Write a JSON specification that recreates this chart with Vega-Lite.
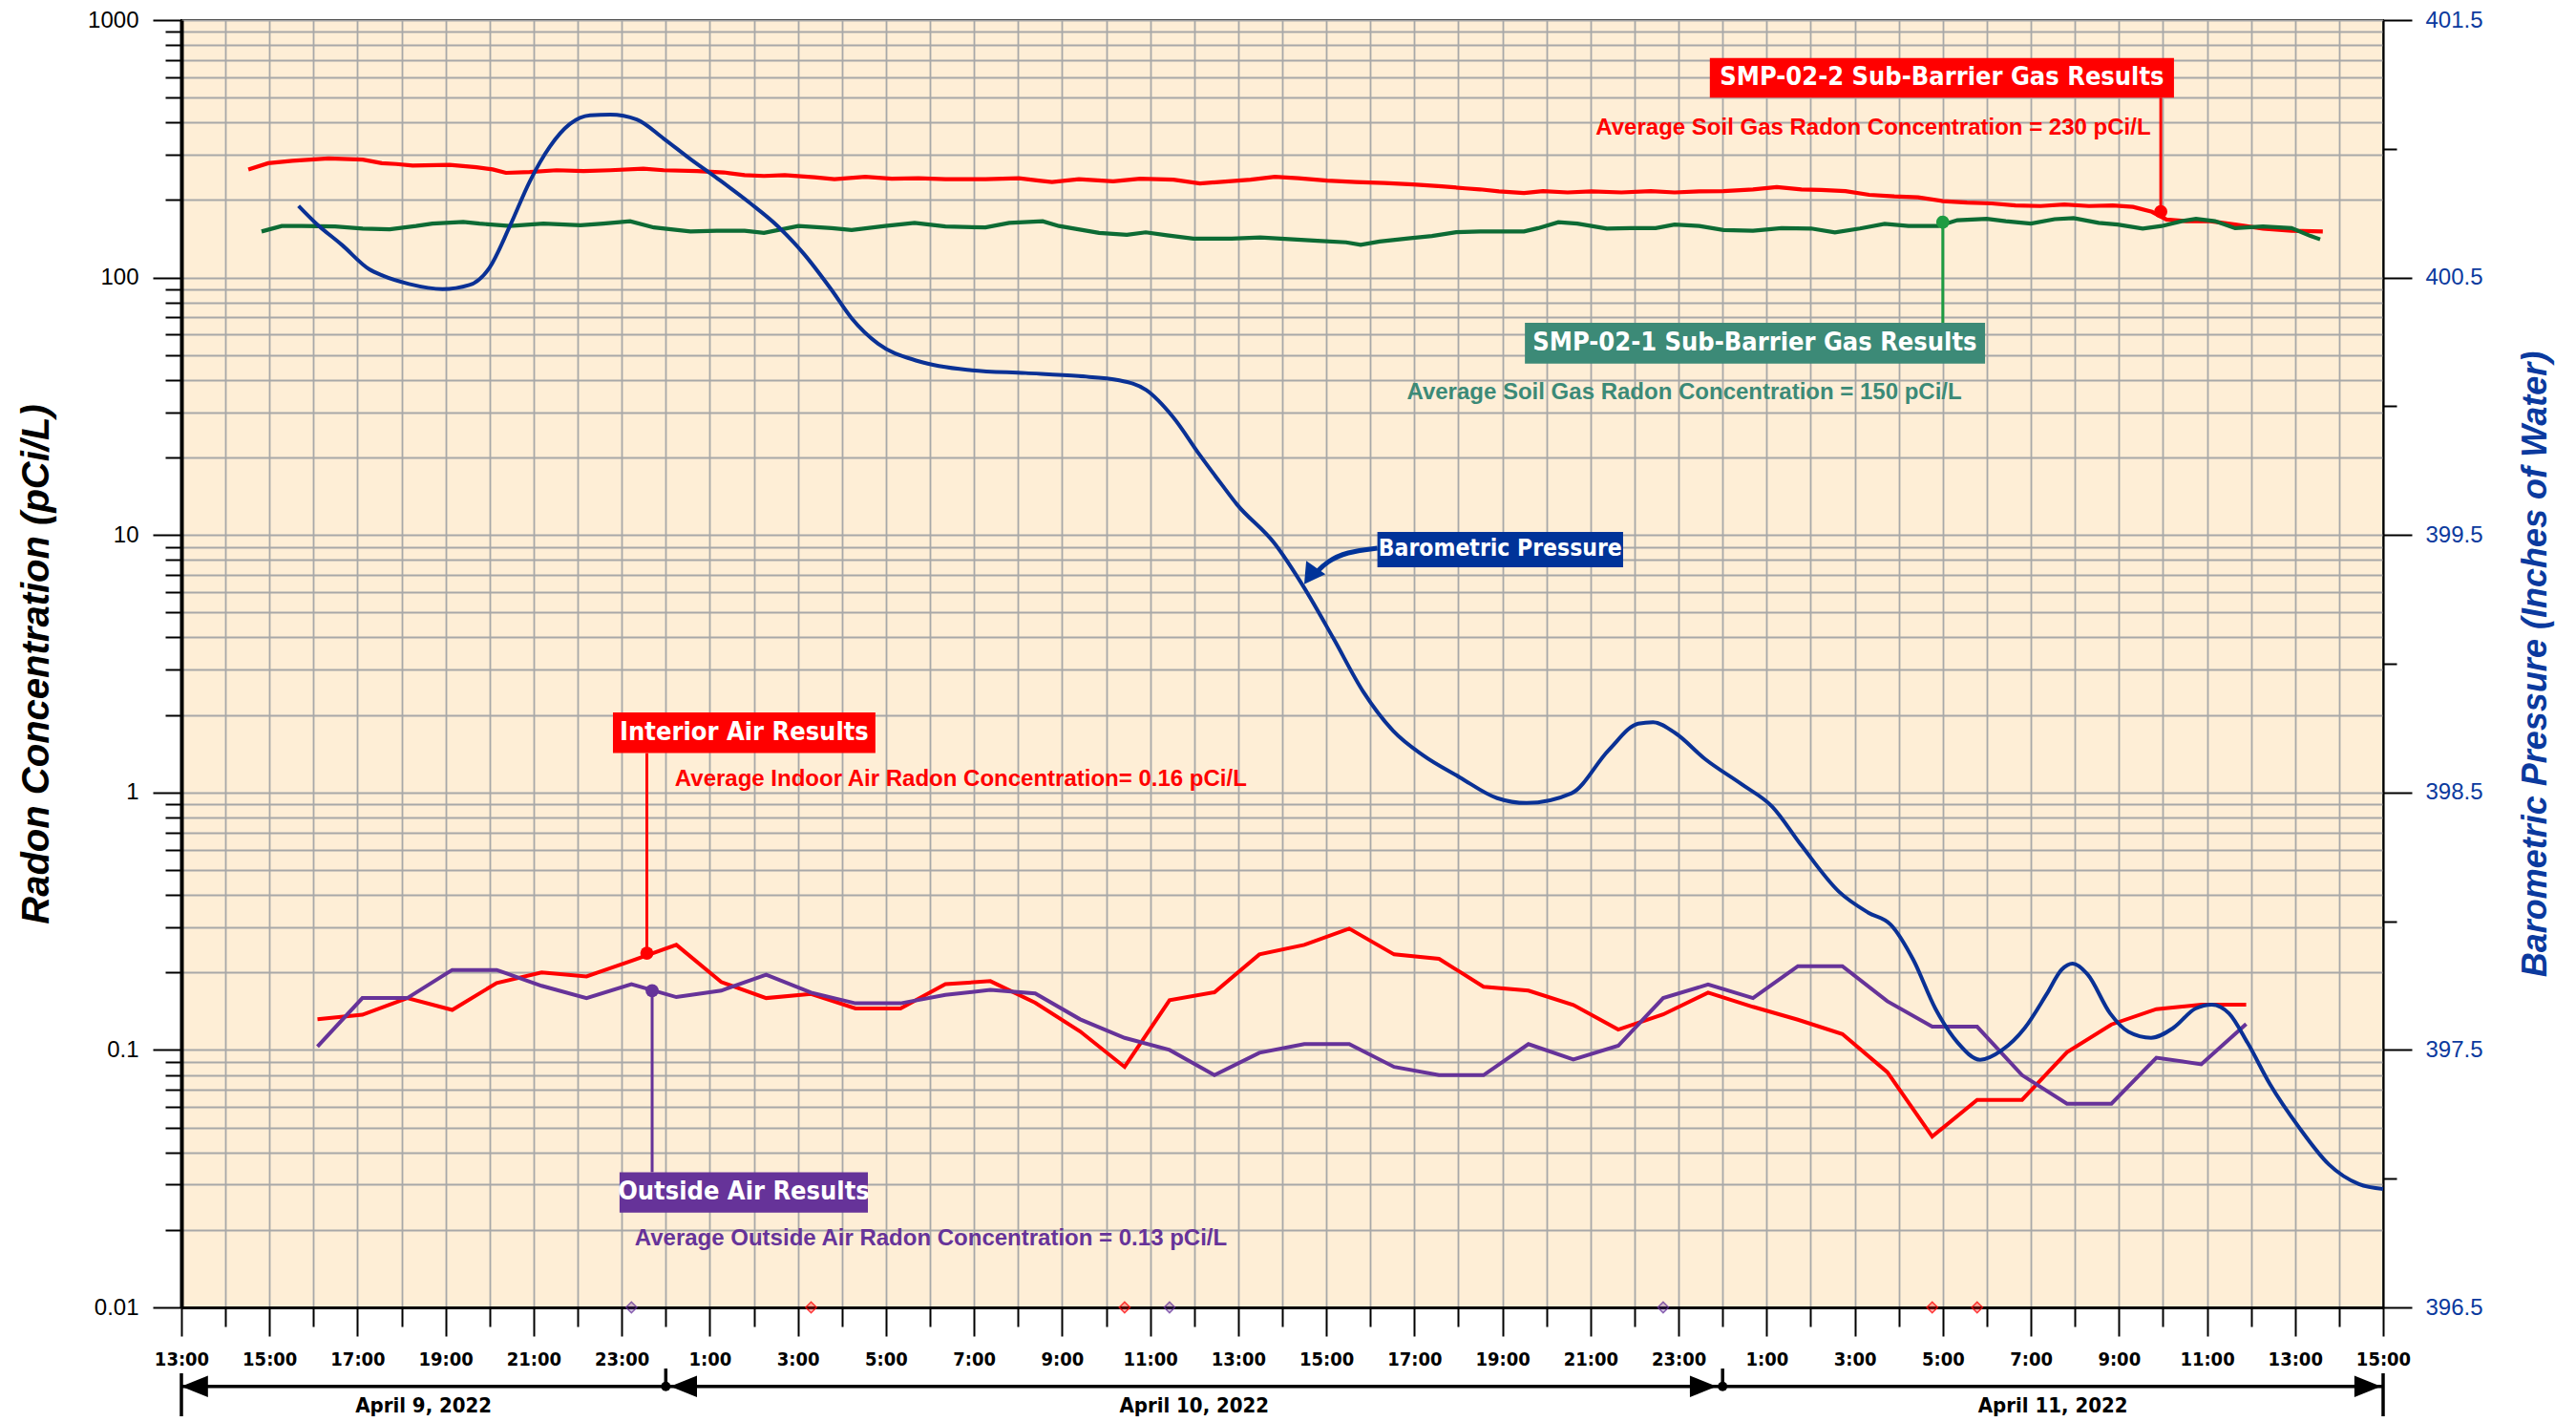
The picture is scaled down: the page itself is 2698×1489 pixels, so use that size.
{
  "$schema": "https://vega.github.io/schema/vega-lite/v6.json",
  "width": 2306,
  "height": 1348,
  "autosize": {"type": "none"},
  "padding": {"left": 190, "top": 21, "right": 202, "bottom": 120},
  "background": "white",
  "config": {
    "view": {"fill": "#FEEED6", "stroke": "#000000", "strokeWidth": 2},
    "legend": {"disable": true},
    "font": "Liberation Sans"
  },
  "datasets": {
    "soil": [
      {"series":"SMP-02-2","hour":14.52,"v":263},{"series":"SMP-02-2","hour":14.97,"v":278},{"series":"SMP-02-2","hour":15.52,"v":284},{"series":"SMP-02-2","hour":16.34,"v":290},{"series":"SMP-02-2","hour":17.12,"v":287},{"series":"SMP-02-2","hour":17.55,"v":278},{"series":"SMP-02-2","hour":17.88,"v":276},{"series":"SMP-02-2","hour":18.25,"v":272},{"series":"SMP-02-2","hour":19.09,"v":274},{"series":"SMP-02-2","hour":19.70,"v":268},{"series":"SMP-02-2","hour":20.07,"v":263},{"series":"SMP-02-2","hour":20.37,"v":255},{"series":"SMP-02-2","hour":20.91,"v":257},{"series":"SMP-02-2","hour":21.52,"v":261},{"series":"SMP-02-2","hour":22.13,"v":259},{"series":"SMP-02-2","hour":22.74,"v":261},{"series":"SMP-02-2","hour":23.49,"v":264.5},{"series":"SMP-02-2","hour":23.95,"v":261},{"series":"SMP-02-2","hour":24.71,"v":259},{"series":"SMP-02-2","hour":25.32,"v":256},{"series":"SMP-02-2","hour":25.79,"v":250},{"series":"SMP-02-2","hour":26.23,"v":248},{"series":"SMP-02-2","hour":26.70,"v":250},{"series":"SMP-02-2","hour":27.38,"v":245},{"series":"SMP-02-2","hour":27.83,"v":241},{"series":"SMP-02-2","hour":28.53,"v":246},{"series":"SMP-02-2","hour":29.13,"v":242},{"series":"SMP-02-2","hour":29.74,"v":243},{"series":"SMP-02-2","hour":30.35,"v":241},{"series":"SMP-02-2","hour":31.26,"v":241},{"series":"SMP-02-2","hour":32.02,"v":243},{"series":"SMP-02-2","hour":32.47,"v":238},{"series":"SMP-02-2","hour":32.77,"v":235},{"series":"SMP-02-2","hour":33.38,"v":241},{"series":"SMP-02-2","hour":34.16,"v":236.5},{"series":"SMP-02-2","hour":34.77,"v":242},{"series":"SMP-02-2","hour":35.53,"v":240},{"series":"SMP-02-2","hour":36.13,"v":232},{"series":"SMP-02-2","hour":36.85,"v":237},{"series":"SMP-02-2","hour":37.28,"v":240},{"series":"SMP-02-2","hour":37.83,"v":246},{"series":"SMP-02-2","hour":38.37,"v":243},{"series":"SMP-02-2","hour":39.02,"v":238},{"series":"SMP-02-2","hour":39.67,"v":235},{"series":"SMP-02-2","hour":40.32,"v":233},{"series":"SMP-02-2","hour":40.97,"v":230},{"series":"SMP-02-2","hour":41.62,"v":226},{"series":"SMP-02-2","hour":42.16,"v":222},{"series":"SMP-02-2","hour":42.49,"v":220},{"series":"SMP-02-2","hour":42.92,"v":216},{"series":"SMP-02-2","hour":43.49,"v":213},{"series":"SMP-02-2","hour":43.92,"v":216.5},{"series":"SMP-02-2","hour":44.48,"v":214},{"series":"SMP-02-2","hour":45.02,"v":216},{"series":"SMP-02-2","hour":45.70,"v":214},{"series":"SMP-02-2","hour":46.37,"v":216.5},{"series":"SMP-02-2","hour":46.91,"v":214},{"series":"SMP-02-2","hour":47.47,"v":216},{"series":"SMP-02-2","hour":48.02,"v":216.5},{"series":"SMP-02-2","hour":48.69,"v":220},{"series":"SMP-02-2","hour":49.23,"v":224.5},{"series":"SMP-02-2","hour":49.79,"v":220},{"series":"SMP-02-2","hour":50.23,"v":219},{"series":"SMP-02-2","hour":50.79,"v":216.5},{"series":"SMP-02-2","hour":51.33,"v":209.5},{"series":"SMP-02-2","hour":51.90,"v":206.5},{"series":"SMP-02-2","hour":52.44,"v":205},{"series":"SMP-02-2","hour":53.00,"v":198},{"series":"SMP-02-2","hour":53.55,"v":195.5},{"series":"SMP-02-2","hour":54.11,"v":194},{"series":"SMP-02-2","hour":54.65,"v":190.5},{"series":"SMP-02-2","hour":55.22,"v":189.5},{"series":"SMP-02-2","hour":55.76,"v":192},{"series":"SMP-02-2","hour":56.32,"v":189.5},{"series":"SMP-02-2","hour":56.86,"v":190.5},{"series":"SMP-02-2","hour":57.32,"v":188},{"series":"SMP-02-2","hour":57.75,"v":180},{"series":"SMP-02-2","hour":58.08,"v":168},{"series":"SMP-02-2","hour":58.53,"v":165.5},{"series":"SMP-02-2","hour":59.08,"v":165.5},{"series":"SMP-02-2","hour":59.64,"v":160.5},{"series":"SMP-02-2","hour":60.27,"v":155},{"series":"SMP-02-2","hour":60.92,"v":152},{"series":"SMP-02-2","hour":61.63,"v":151},
      {"series":"SMP-02-1","hour":14.82,"v":151},{"series":"SMP-02-1","hour":15.28,"v":158.5},{"series":"SMP-02-1","hour":15.73,"v":158.5},{"series":"SMP-02-1","hour":16.49,"v":157.8},{"series":"SMP-02-1","hour":17.12,"v":155},{"series":"SMP-02-1","hour":17.73,"v":154},{"series":"SMP-02-1","hour":18.33,"v":158.5},{"series":"SMP-02-1","hour":18.70,"v":162},{"series":"SMP-02-1","hour":19.40,"v":164.5},{"series":"SMP-02-1","hour":19.77,"v":162},{"series":"SMP-02-1","hour":20.46,"v":158.5},{"series":"SMP-02-1","hour":21.22,"v":162},{"series":"SMP-02-1","hour":22.06,"v":159.5},{"series":"SMP-02-1","hour":22.58,"v":162},{"series":"SMP-02-1","hour":23.19,"v":165.5},{"series":"SMP-02-1","hour":23.73,"v":156.5},{"series":"SMP-02-1","hour":24.56,"v":151},{"series":"SMP-02-1","hour":25.16,"v":152},{"series":"SMP-02-1","hour":25.79,"v":152},{"series":"SMP-02-1","hour":26.23,"v":149},{"series":"SMP-02-1","hour":27.01,"v":158.5},{"series":"SMP-02-1","hour":27.77,"v":155.5},{"series":"SMP-02-1","hour":28.22,"v":153},{"series":"SMP-02-1","hour":28.98,"v":158.5},{"series":"SMP-02-1","hour":29.65,"v":163},{"series":"SMP-02-1","hour":30.35,"v":157.8},{"series":"SMP-02-1","hour":31.26,"v":156.5},{"series":"SMP-02-1","hour":31.80,"v":163},{"series":"SMP-02-1","hour":32.56,"v":165.5},{"series":"SMP-02-1","hour":32.93,"v":158.5},{"series":"SMP-02-1","hour":33.84,"v":149},{"series":"SMP-02-1","hour":34.47,"v":146.5},{"series":"SMP-02-1","hour":34.90,"v":149.8},{"series":"SMP-02-1","hour":35.38,"v":145.8},{"series":"SMP-02-1","hour":35.98,"v":141.5},{"series":"SMP-02-1","hour":36.85,"v":141.5},{"series":"SMP-02-1","hour":37.50,"v":143},{"series":"SMP-02-1","hour":38.15,"v":141},{"series":"SMP-02-1","hour":38.80,"v":139},{"series":"SMP-02-1","hour":39.45,"v":137},{"series":"SMP-02-1","hour":39.78,"v":134},{"series":"SMP-02-1","hour":40.21,"v":138},{"series":"SMP-02-1","hour":40.86,"v":142},{"series":"SMP-02-1","hour":41.40,"v":145},{"series":"SMP-02-1","hour":41.95,"v":150},{"series":"SMP-02-1","hour":42.49,"v":151},{"series":"SMP-02-1","hour":43.05,"v":151},{"series":"SMP-02-1","hour":43.49,"v":151},{"series":"SMP-02-1","hour":43.81,"v":155.5},{"series":"SMP-02-1","hour":44.27,"v":164},{"series":"SMP-02-1","hour":44.70,"v":162},{"series":"SMP-02-1","hour":45.37,"v":155},{"series":"SMP-02-1","hour":45.91,"v":155.5},{"series":"SMP-02-1","hour":46.48,"v":155.5},{"series":"SMP-02-1","hour":46.91,"v":160.5},{"series":"SMP-02-1","hour":47.47,"v":158.5},{"series":"SMP-02-1","hour":48.02,"v":153},{"series":"SMP-02-1","hour":48.69,"v":152},{"series":"SMP-02-1","hour":49.34,"v":155.5},{"series":"SMP-02-1","hour":50.01,"v":155},{"series":"SMP-02-1","hour":50.55,"v":149.8},{"series":"SMP-02-1","hour":51.12,"v":155},{"series":"SMP-02-1","hour":51.68,"v":161.5},{"series":"SMP-02-1","hour":52.22,"v":158.5},{"series":"SMP-02-1","hour":52.90,"v":158.5},{"series":"SMP-02-1","hour":53.33,"v":167},{"series":"SMP-02-1","hour":54.00,"v":169},{"series":"SMP-02-1","hour":54.43,"v":165.5},{"series":"SMP-02-1","hour":55.00,"v":162},{"series":"SMP-02-1","hour":55.54,"v":168.5},{"series":"SMP-02-1","hour":55.97,"v":170},{"series":"SMP-02-1","hour":56.54,"v":163},{"series":"SMP-02-1","hour":56.97,"v":160.5},{"series":"SMP-02-1","hour":57.54,"v":155},{"series":"SMP-02-1","hour":57.97,"v":158.5},{"series":"SMP-02-1","hour":58.42,"v":165.5},{"series":"SMP-02-1","hour":58.75,"v":169},{"series":"SMP-02-1","hour":59.18,"v":165.5},{"series":"SMP-02-1","hour":59.64,"v":155.5},{"series":"SMP-02-1","hour":60.27,"v":158},{"series":"SMP-02-1","hour":60.92,"v":155.5},{"series":"SMP-02-1","hour":61.35,"v":145},{"series":"SMP-02-1","hour":61.57,"v":140.7}
    ],
    "air": [
      {"series":"Interior Air","hour":16.09,"v":0.1315},{"series":"Interior Air","hour":17.11,"v":0.137},{"series":"Interior Air","hour":18.13,"v":0.159},{"series":"Interior Air","hour":19.15,"v":0.143},{"series":"Interior Air","hour":20.16,"v":0.182},{"series":"Interior Air","hour":21.18,"v":0.2},{"series":"Interior Air","hour":22.20,"v":0.193},{"series":"Interior Air","hour":23.22,"v":0.222},{"series":"Interior Air","hour":24.24,"v":0.256},{"series":"Interior Air","hour":25.26,"v":0.1835},{"series":"Interior Air","hour":26.28,"v":0.159},{"series":"Interior Air","hour":27.30,"v":0.165},{"series":"Interior Air","hour":28.31,"v":0.145},{"series":"Interior Air","hour":29.33,"v":0.145},{"series":"Interior Air","hour":30.35,"v":0.18},{"series":"Interior Air","hour":31.37,"v":0.185},{"series":"Interior Air","hour":32.39,"v":0.1525},{"series":"Interior Air","hour":33.41,"v":0.118},{"series":"Interior Air","hour":34.42,"v":0.0859},{"series":"Interior Air","hour":35.44,"v":0.156},{"series":"Interior Air","hour":36.46,"v":0.1675},{"series":"Interior Air","hour":37.48,"v":0.235},{"series":"Interior Air","hour":38.50,"v":0.256},{"series":"Interior Air","hour":39.52,"v":0.296},{"series":"Interior Air","hour":40.54,"v":0.235},{"series":"Interior Air","hour":41.56,"v":0.226},{"series":"Interior Air","hour":42.57,"v":0.176},{"series":"Interior Air","hour":43.59,"v":0.17},{"series":"Interior Air","hour":44.61,"v":0.1495},{"series":"Interior Air","hour":45.63,"v":0.12},{"series":"Interior Air","hour":46.65,"v":0.1374},{"series":"Interior Air","hour":47.67,"v":0.167},{"series":"Interior Air","hour":48.69,"v":0.147},{"series":"Interior Air","hour":49.71,"v":0.131},{"series":"Interior Air","hour":50.72,"v":0.1153},{"series":"Interior Air","hour":51.74,"v":0.082},{"series":"Interior Air","hour":52.76,"v":0.0461},{"series":"Interior Air","hour":53.78,"v":0.064},{"series":"Interior Air","hour":54.80,"v":0.064},{"series":"Interior Air","hour":55.82,"v":0.098},{"series":"Interior Air","hour":56.83,"v":0.1256},{"series":"Interior Air","hour":57.85,"v":0.144},{"series":"Interior Air","hour":58.87,"v":0.15},{"series":"Interior Air","hour":59.89,"v":0.15},
      {"series":"Outside Air","hour":16.09,"v":0.103},{"series":"Outside Air","hour":17.11,"v":0.159},{"series":"Outside Air","hour":18.13,"v":0.159},{"series":"Outside Air","hour":19.15,"v":0.2045},{"series":"Outside Air","hour":20.16,"v":0.2045},{"series":"Outside Air","hour":21.18,"v":0.1774},{"series":"Outside Air","hour":22.20,"v":0.159},{"series":"Outside Air","hour":23.22,"v":0.18},{"series":"Outside Air","hour":24.24,"v":0.1604},{"series":"Outside Air","hour":25.26,"v":0.17},{"series":"Outside Air","hour":26.28,"v":0.196},{"series":"Outside Air","hour":27.30,"v":0.167},{"series":"Outside Air","hour":28.31,"v":0.1517},{"series":"Outside Air","hour":29.33,"v":0.1517},{"series":"Outside Air","hour":30.35,"v":0.1637},{"series":"Outside Air","hour":31.37,"v":0.171},{"series":"Outside Air","hour":32.39,"v":0.1658},{"series":"Outside Air","hour":33.41,"v":0.1315},{"series":"Outside Air","hour":34.42,"v":0.1114},{"series":"Outside Air","hour":35.44,"v":0.1},{"series":"Outside Air","hour":36.46,"v":0.0798},{"series":"Outside Air","hour":37.48,"v":0.0975},{"series":"Outside Air","hour":38.50,"v":0.1054},{"series":"Outside Air","hour":39.52,"v":0.1054},{"series":"Outside Air","hour":40.54,"v":0.0859},{"series":"Outside Air","hour":41.56,"v":0.0798},{"series":"Outside Air","hour":42.57,"v":0.0798},{"series":"Outside Air","hour":43.59,"v":0.1054},{"series":"Outside Air","hour":44.61,"v":0.0919},{"series":"Outside Air","hour":45.63,"v":0.1038},{"series":"Outside Air","hour":46.65,"v":0.159},{"series":"Outside Air","hour":47.67,"v":0.1795},{"series":"Outside Air","hour":48.69,"v":0.159},{"series":"Outside Air","hour":49.71,"v":0.2115},{"series":"Outside Air","hour":50.72,"v":0.2115},{"series":"Outside Air","hour":51.74,"v":0.1546},{"series":"Outside Air","hour":52.76,"v":0.1231},{"series":"Outside Air","hour":53.78,"v":0.1231},{"series":"Outside Air","hour":54.80,"v":0.0798},{"series":"Outside Air","hour":55.82,"v":0.0618},{"series":"Outside Air","hour":56.83,"v":0.0618},{"series":"Outside Air","hour":57.85,"v":0.0933},{"series":"Outside Air","hour":58.87,"v":0.088},{"series":"Outside Air","hour":59.89,"v":0.126}
    ],
    "nondetect": [
      {"series":"Outside Air","hour":23.22,"v":0.01},{"series":"Interior Air","hour":27.30,"v":0.01},{"series":"Interior Air","hour":34.42,"v":0.01},{"series":"Outside Air","hour":35.44,"v":0.01},{"series":"Outside Air","hour":46.65,"v":0.01},{"series":"Interior Air","hour":52.76,"v":0.01},{"series":"Interior Air","hour":53.78,"v":0.01}
    ],
    "pressure": [
      {"hour":15.66,"p":400.778},{"hour":16.04,"p":400.713},{"hour":16.65,"p":400.626},{"hour":17.26,"p":400.533},{"hour":17.56,"p":400.508},{"hour":18.17,"p":400.475},{"hour":18.93,"p":400.455},{"hour":19.54,"p":400.471},{"hour":20.00,"p":400.539},{"hour":20.46,"p":400.7},{"hour":20.91,"p":400.873},{"hour":21.37,"p":401.009},{"hour":21.82,"p":401.096},{"hour":22.28,"p":401.13},{"hour":22.74,"p":401.133},{"hour":23.34,"p":401.114},{"hour":23.95,"p":401.04},{"hour":24.56,"p":400.96},{"hour":25.17,"p":400.885},{"hour":25.93,"p":400.787},{"hour":26.54,"p":400.7},{"hour":27.15,"p":400.589},{"hour":27.76,"p":400.453},{"hour":28.22,"p":400.342},{"hour":28.82,"p":400.243},{"hour":29.74,"p":400.175},{"hour":30.95,"p":400.14},{"hour":32.17,"p":400.129},{"hour":33.38,"p":400.117},{"hour":34.30,"p":400.101},{"hour":34.91,"p":400.063},{"hour":35.52,"p":399.958},{"hour":36.13,"p":399.81},{"hour":36.63,"p":399.695},{"hour":36.97,"p":399.619},{"hour":37.82,"p":399.468},{"hour":38.49,"p":399.297},{"hour":39.16,"p":399.099},{"hour":39.84,"p":398.891},{"hour":40.52,"p":398.739},{"hour":41.19,"p":398.645},{"hour":42.03,"p":398.559},{"hour":42.88,"p":398.478},{"hour":43.55,"p":398.459},{"hour":44.57,"p":398.497},{"hour":45.41,"p":398.664},{"hour":46.08,"p":398.767},{"hour":46.42,"p":398.773},{"hour":46.93,"p":398.73},{"hour":47.60,"p":398.63},{"hour":48.44,"p":398.531},{"hour":49.12,"p":398.446},{"hour":49.79,"p":398.294},{"hour":50.64,"p":398.115},{"hour":51.31,"p":398.033},{"hour":51.82,"p":397.986},{"hour":52.33,"p":397.85},{"hour":52.83,"p":397.661},{"hour":53.34,"p":397.528},{"hour":53.85,"p":397.462},{"hour":54.35,"p":397.5},{"hour":54.86,"p":397.585},{"hour":55.36,"p":397.717},{"hour":55.70,"p":397.812},{"hour":55.95,"p":397.835},{"hour":56.29,"p":397.793},{"hour":56.80,"p":397.642},{"hour":57.22,"p":397.57},{"hour":57.73,"p":397.547},{"hour":58.23,"p":397.585},{"hour":58.74,"p":397.661},{"hour":59.11,"p":397.676},{"hour":59.50,"p":397.642},{"hour":59.92,"p":397.528},{"hour":60.43,"p":397.367},{"hour":61.10,"p":397.197},{"hour":61.77,"p":397.055},{"hour":62.45,"p":396.979},{"hour":63.00,"p":396.96}
    ],
    "boxes": [
      {"series":"SMP-02-2","hour":47.71,"hour2":58.25,"v":712,"v2":499.4},
      {"series":"SMP-02-1","hour":43.51,"hour2":53.96,"v":66.72,"v2":46.33},
      {"series":"Barometric Pressure","hour":40.16,"hour2":45.74,"v":10.28,"v2":7.49},
      {"series":"Interior Air","hour":22.80,"hour2":28.76,"v":2.046,"v2":1.4215},
      {"series":"Outside Air","hour":22.95,"hour2":28.59,"v":0.03349,"v2":0.02336}
    ],
    "boxtext": [
      {"series":"SMP-02-2","text":"SMP-02-2 Sub-Barrier Gas Results","hour":52.98,"v":596.6},
      {"series":"SMP-02-1","text":"SMP-02-1 Sub-Barrier Gas Results","hour":48.73,"v":55.6},
      {"series":"Barometric Pressure","text":"Barometric Pressure","hour":42.95,"v":8.78},
      {"series":"Interior Air","text":"Interior Air Results","hour":25.78,"v":1.705},
      {"series":"Outside Air","text":"Outside Air Results","hour":25.77,"v":0.02799}
    ],
    "notes": [
      {"series":"SMP-02-2","text":"Average Soil Gas Radon Concentration = 230 pCi/L","hour":51.42,"v":381},
      {"series":"SMP-02-1","text":"Average Soil Gas Radon Concentration = 150 pCi/L","hour":47.13,"v":35.77},
      {"series":"Interior Air","text":"Average Indoor Air Radon Concentration= 0.16 pCi/L","hour":30.70,"v":1.125},
      {"series":"Outside Air","text":"Average Outside Air Radon Concentration = 0.13 pCi/L","hour":30.02,"v":0.01849}
    ],
    "leaders": [
      {"series":"SMP-02-2","hour":57.95,"v":499.4,"v2":180.1},
      {"series":"SMP-02-1 marker","hour":53.0,"v":66.72,"v2":164},
      {"series":"Interior Air","hour":23.57,"v":1.4215,"v2":0.2377},
      {"series":"Outside Air","hour":23.69,"v":0.03349,"v2":0.17}
    ],
    "dots": [
      {"series":"SMP-02-2","hour":57.95,"v":180.1},
      {"series":"SMP-02-1 marker","hour":53.0,"v":164},
      {"series":"Interior Air","hour":23.57,"v":0.2377},
      {"series":"Outside Air","hour":23.69,"v":0.17}
    ],
    "baroArrow": [
      {"hour":40.16,"v":8.89},{"hour":39.45,"v":8.59},{"hour":39.02,"v":7.89},{"hour":38.76,"v":7.12}
    ],
    "baroHead": [{"hour":38.63,"v":6.94}],
    "dateRules": [
      {"hour":13,"hour2":63,"v":0.004934,"v2":0.004934},
      {"hour":13,"hour2":13,"v":0.005547,"v2":0.003777},
      {"hour":63,"hour2":63,"v":0.005547,"v2":0.003777},
      {"hour":24,"hour2":24,"v":0.005788,"v2":0.004934},
      {"hour":48,"hour2":48,"v":0.005788,"v2":0.004934}
    ],
    "dateHeads": [
      {"dir":"left","hour":13.30,"v":0.004934},
      {"dir":"left","hour":24.405,"v":0.004934},
      {"dir":"right","hour":47.56,"v":0.004934},
      {"dir":"right","hour":62.65,"v":0.004934}
    ],
    "dateDots": [{"hour":24,"v":0.004934},{"hour":48,"v":0.004934}],
    "dateLabels": [
      {"text":"April 9, 2022","hour":18.5,"v":0.00416},
      {"text":"April 10, 2022","hour":36,"v":0.00416},
      {"text":"April 11, 2022","hour":55.5,"v":0.00416}
    ]
  },
  "encoding": {
    "x": {
      "field": "hour", "type": "quantitative",
      "scale": {"domain": [13, 63], "nice": false, "zero": false},
      "axis": {
        "values": [13,14,15,16,17,18,19,20,21,22,23,24,25,26,27,28,29,30,31,32,33,34,35,36,37,38,39,40,41,42,43,44,45,46,47,48,49,50,51,52,53,54,55,56,57,58,59,60,61,62,63],
        "title": null,
        "grid": true, "gridColor": "#A8A8A8", "gridWidth": 1.8,
        "domainColor": "#000000", "domainWidth": 3,
        "tickColor": "#000000", "tickWidth": 2,
        "tickSize": {"condition": {"test": "datum.value % 2 == 1", "value": 30}, "value": 20},
        "labelExpr": "datum.value % 2 == 1 ? (datum.value % 24) + ':00' : ''",
        "labelFont": "Liberation Sans Narrow, Arial Narrow, DejaVu Sans Condensed, sans-serif",
        "labelFontWeight": "bold", "labelFontSize": 20, "labelColor": "#000000",
        "labelPadding": 14, "labelOverlap": false, "labelFlush": false, "labelBound": false
      }
    }
  },
  "layer": [
    {
      "encoding": {
        "y": {
          "field": "v", "type": "quantitative",
          "scale": {"type": "log", "domain": [0.01, 1000], "nice": false},
          "axis": {
            "orient": "left",
            "values": [0.01,0.02,0.03,0.04,0.05,0.06,0.07,0.08,0.09,0.1,0.2,0.3,0.4,0.5,0.6,0.7,0.8,0.9,1,2,3,4,5,6,7,8,9,10,20,30,40,50,60,70,80,90,100,200,300,400,500,600,700,800,900,1000],
            "title": "Radon Concentration (pCi/L)",
            "titleFont": "Liberation Sans", "titleFontSize": 40, "titleFontStyle": "italic", "titleFontWeight": "bold", "titleColor": "#000000",
            "titleAngle": -90, "titleX": -152, "titleY": 674, "titleAlign": "center", "titleBaseline": "middle",
            "grid": true, "gridColor": "#A8A8A8", "gridWidth": 1.8,
            "domainColor": "#000000", "domainWidth": 4,
            "tickColor": "#000000", "tickWidth": 2,
            "tickSize": {"condition": {"test": "abs(log(datum.value)/LN10 - round(log(datum.value)/LN10)) < 0.000001", "value": 30}, "value": 17},
            "labelExpr": "abs(log(datum.value)/LN10 - round(log(datum.value)/LN10)) < 0.000001 ? format(datum.value, '~g') : ''",
            "labelFont": "Liberation Sans", "labelFontSize": 24, "labelColor": "#000000",
            "labelPadding": 15, "labelOverlap": false, "labelFlush": false, "labelBound": false
          }
        }
      },
      "layer": [
        {
          "data": {"name": "soil"},
          "mark": {"type": "line", "strokeWidth": 4.2},
          "encoding": {
            "color": {"field": "series", "type": "nominal", "scale": {"domain": ["SMP-02-2","SMP-02-1","Interior Air","Outside Air","SMP-02-1 marker"], "range": ["#FF0000","#0D6B34","#FF0000","#663399","#1E9B41"]}, "legend": null},
            "detail": {"field": "series"}
          }
        },
        {
          "data": {"name": "air"},
          "mark": {"type": "line", "strokeWidth": 4},
          "encoding": {
            "color": {"field": "series", "type": "nominal", "legend": null}
          }
        },
        {
          "data": {"name": "nondetect"},
          "mark": {"type": "point", "shape": "diamond", "filled": false, "size": 130, "strokeWidth": 1.5, "fillOpacity": 0.3, "strokeOpacity": 0.75},
          "encoding": {
            "color": {"field": "series", "type": "nominal", "legend": null},
            "fill": {"field": "series", "type": "nominal", "legend": null}
          }
        },
        {
          "data": {"name": "leaders"},
          "mark": {"type": "rule", "strokeWidth": 3},
          "encoding": {
            "y2": {"field": "v2"},
            "color": {"field": "series", "type": "nominal", "legend": null}
          }
        },
        {
          "data": {"name": "dots"},
          "mark": {"type": "circle", "size": 190, "opacity": 1},
          "encoding": {
            "color": {"field": "series", "type": "nominal", "legend": null}
          }
        },
        {
          "data": {"name": "boxes"},
          "mark": {"type": "rect"},
          "encoding": {
            "x2": {"field": "hour2"},
            "y2": {"field": "v2"},
            "fill": {"field": "series", "type": "nominal", "scale": {"domain": ["SMP-02-2","SMP-02-1","Barometric Pressure","Interior Air","Outside Air"], "range": ["#FF0000","#3C8A77","#003399","#FF0000","#663399"]}, "legend": null}
          }
        },
        {
          "data": {"name": "boxtext"},
          "mark": {"type": "text", "color": "#FFFFFF", "font": "Liberation Sans Narrow, Arial Narrow, DejaVu Sans Condensed, sans-serif", "fontWeight": "bold", "align": "center", "baseline": "middle"},
          "encoding": {
            "text": {"field": "text"},
            "size": {"condition": {"test": "datum.series == 'Barometric Pressure'", "value": 24.5}, "value": 27}
          }
        },
        {
          "data": {"name": "notes"},
          "mark": {"type": "text", "font": "Liberation Sans", "fontWeight": "bold", "fontSize": 24, "align": "center", "baseline": "middle"},
          "encoding": {
            "text": {"field": "text"},
            "fill": {"field": "series", "type": "nominal", "legend": null}
          }
        },
        {
          "data": {"name": "baroArrow"},
          "mark": {"type": "line", "color": "#003399", "strokeWidth": 5, "interpolate": "basis"},
          "encoding": {}
        },
        {
          "data": {"name": "baroHead"},
          "mark": {"type": "point", "shape": "triangle-down", "angle": 35, "size": 600, "filled": true, "color": "#003399", "opacity": 1},
          "encoding": {}
        },
        {
          "data": {"name": "dateRules"},
          "mark": {"type": "rule", "color": "#000000", "strokeWidth": 3.5},
          "encoding": {
            "x2": {"field": "hour2"},
            "y2": {"field": "v2"}
          }
        },
        {
          "data": {"name": "dateHeads"},
          "mark": {"type": "point", "filled": true, "color": "#000000", "size": 784, "opacity": 1},
          "encoding": {
            "shape": {"field": "dir", "type": "nominal", "scale": {"domain": ["left","right"], "range": ["M 1 -0.8 L -1 0 L 1 0.8 Z", "M -1 -0.8 L 1 0 L -1 0.8 Z"]}, "legend": null}
          }
        },
        {
          "data": {"name": "dateDots"},
          "mark": {"type": "circle", "color": "#000000", "size": 100, "opacity": 1},
          "encoding": {}
        },
        {
          "data": {"name": "dateLabels"},
          "mark": {"type": "text", "color": "#000000", "font": "Liberation Sans Narrow, Arial Narrow, DejaVu Sans Condensed, sans-serif", "fontWeight": "bold", "fontSize": 22, "align": "center", "baseline": "middle"},
          "encoding": {"text": {"field": "text"}}
        }
      ]
    },
    {
      "data": {"name": "pressure"},
      "mark": {"type": "line", "color": "#0A3195", "strokeWidth": 4, "interpolate": "monotone"},
      "encoding": {
        "y": {
          "field": "p", "type": "quantitative",
          "scale": {"domain": [396.5, 401.5], "nice": false, "zero": false},
          "axis": {
            "orient": "right",
            "values": [396.5,397,397.5,398,398.5,399,399.5,400,400.5,401,401.5],
            "title": "Barometric Pressure (Inches of Water)",
            "titleFont": "Liberation Sans", "titleFontSize": 36, "titleFontStyle": "italic", "titleFontWeight": "bold", "titleColor": "#0B3A9E",
            "titleAngle": -90, "titleX": 159, "titleY": 674, "titleAlign": "center", "titleBaseline": "middle",
            "grid": false,
            "domainColor": "#000000", "domainWidth": 2,
            "tickColor": "#000000", "tickWidth": 2,
            "tickSize": {"condition": {"test": "(datum.value * 2) % 2 == 1", "value": 30}, "value": 14},
            "labelExpr": "(datum.value * 2) % 2 == 1 ? format(datum.value, '.1f') : ''",
            "labelFont": "Liberation Sans", "labelFontSize": 24, "labelColor": "#0B3A9E",
            "labelPadding": 14, "labelOverlap": false, "labelFlush": false, "labelBound": false
          }
        }
      }
    }
  ],
  "resolve": {"scale": {"y": "independent"}}
}
